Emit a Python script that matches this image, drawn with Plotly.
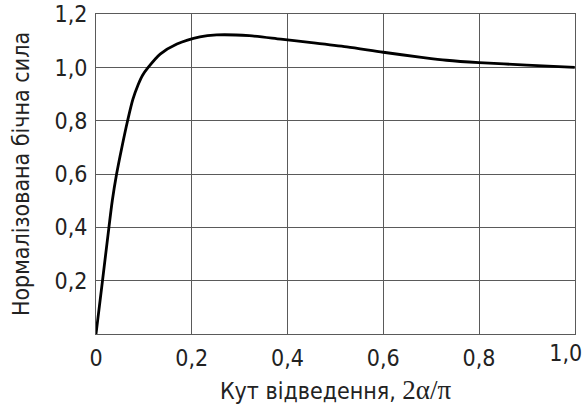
import plotly.graph_objects as go

# Normalized lateral force vs. deflection angle 2α/π
x_vals = [0, 0.0136, 0.027, 0.034, 0.043, 0.054, 0.066, 0.077, 0.088, 0.097, 0.109, 0.134, 0.169,
          0.217, 0.252, 0.32, 0.386, 0.45, 0.524, 0.6, 0.68, 0.732, 0.8, 0.9, 1.0]
y_vals = [0, 0.2, 0.4, 0.5, 0.6, 0.7, 0.8, 0.88, 0.935, 0.97, 1.0, 1.05, 1.088,
          1.115, 1.122, 1.119, 1.106, 1.093, 1.077, 1.057, 1.038, 1.027, 1.018, 1.009, 1.0]

x_ticks = [0, 0.2, 0.4, 0.6, 0.8]
x_ticktext = ["0", "0,2", "0,4", "0,6", "0,8"]
x_end_tick = [1.0]
x_end_ticktext = ["1,0"]
y_ticks = [0.2, 0.4, 0.6, 0.8, 1.0, 1.2]
y_ticktext = ["0,2", "0,4", "0,6", "0,8", "1,0", "1,2"]

x_title = ("Кут відведення, "
           "<span style='font-family:Liberation Serif;font-size:27px'>2α/π</span>")
y_title = "Нормалізована бічна сила"

FONT = "DejaVu Sans Condensed, Liberation Sans Narrow, sans-serif"
TICKFONT = dict(family=FONT, size=23, color="#222")

fig = go.Figure()
fig.add_trace(go.Scatter(
    x=x_vals, y=y_vals, mode="lines",
    line=dict(color="black", width=2.8, shape="spline", smoothing=0.8),
    hoverinfo="skip", showlegend=False,
))
# invisible copy on an overlaying axis that carries only the end label
fig.add_trace(go.Scatter(
    x=x_vals, y=y_vals, mode="lines", xaxis="x2",
    line=dict(color="rgba(0,0,0,0)", width=0),
    hoverinfo="skip", showlegend=False,
))

grid_color = "#5a5a5a"
fig.update_layout(
    xaxis=dict(
        range=[0, 1.0005], tickvals=x_ticks, ticktext=x_ticktext, automargin=False,
        showgrid=True, gridcolor=grid_color, gridwidth=1,
        showline=True, linecolor=grid_color, linewidth=1, mirror=True,
        zeroline=False, ticks="", ticklabelstandoff=3, ticklabeloverflow="allow",
        tickfont=TICKFONT,
        title=dict(text=x_title, font=dict(family=FONT, size=23, color="#222"), standoff=13),
    ),
    xaxis2=dict(
        range=[0, 1.0005], tickvals=x_end_tick, ticktext=x_end_ticktext, automargin=False,
        overlaying="x", side="bottom", anchor="y",
        showgrid=True, gridcolor=grid_color, gridwidth=1, showline=False, zeroline=False,
        ticks="", ticklabelstandoff=3, ticklabelshift=-9, ticklabeloverflow="allow",
        tickfont=TICKFONT,
    ),
    yaxis=dict(
        range=[0, 1.2005], tickvals=y_ticks, ticktext=y_ticktext, automargin=False,
        showgrid=True, gridcolor=grid_color, gridwidth=1,
        showline=True, linecolor=grid_color, linewidth=1, mirror=True,
        zeroline=False, ticks="", ticklabelstandoff=3, ticklabeloverflow="allow",
        tickfont=TICKFONT,
        title=dict(text=y_title, font=dict(family=FONT, size=23, color="#222"), standoff=18),
    ),
    width=584, height=409,
    margin=dict(l=96, r=9, t=14, b=75),
    plot_bgcolor="white", paper_bgcolor="white",
)
fig.write_html("out.html", post_script="document.body.style.margin='0';",
               config={"displayModeBar": False})
